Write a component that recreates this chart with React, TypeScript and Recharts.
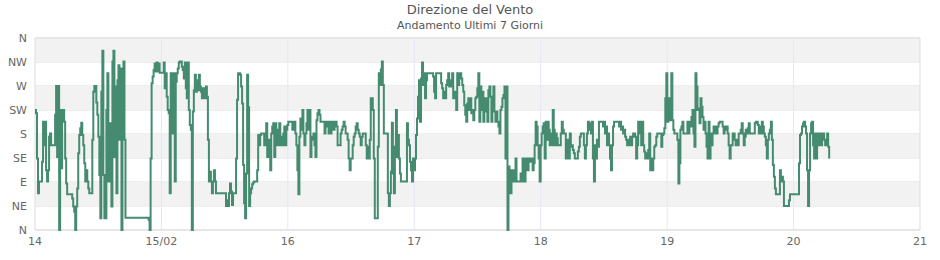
import React from 'react';
import { LineChart, Line, XAxis, YAxis, CartesianGrid, ReferenceArea, ReferenceLine } from 'recharts';

// Wind direction readings (degrees), consecutive samples about 11.45 minutes apart, from 14/02 00:00
const dirBlock1 = [
  225, 219, 134, 69, 91, 91, 91, 128, 203, 159,
  203, 112, 91, 112, 175, 181, 159, 159, 159, 159,
  216, 270, 137, 270, 0, 225, 116, 225, 225, 203,
  134, 87, 67, 67, 67, 67, 67, 59, 44, 34,
  0, 44, 78, 144, 178, 191, 201, 178, 159, 125,
  91, 112, 91, 78, 69, 69, 69, 169, 259, 270,
  270, 239, 216, 175, 103, 22, 259, 336, 103, 22,
  22, 225, 294, 91, 200, 91, 44, 316, 336, 137,
  269, 69, 281, 309, 169, 303, 0, 234, 316, 169,
  23, 23, 23, 23, 23, 23, 23, 23, 23, 23, 23, 23, 23, 23,
];
const dirBlock2 = [
  23, 23, 23, 23, 23, 23, 23, 23, 23, 19,
  0, 134, 275, 288, 300, 312, 297, 314, 297, 312,
  295, 295, 295, 295, 314, 266, 294, 250, 225, 219,
  69, 294, 284, 181, 294, 91, 278, 294, 303, 314,
  316, 316, 306, 300, 284, 314, 266, 247, 314, 225,
  197, 188, 0, 222, 262, 291, 259, 281, 262, 291,
  269, 259, 247, 266, 266, 247, 269, 250, 169, 91,
  109, 91, 69, 91, 112, 91, 69, 69, 69, 69,
  69, 69, 69, 69, 69, 69, 45, 56, 45,
];
const dirBlock3 = [
  69, 87, 72, 47, 69, 69, 69, 134, 244, 294,
  294, 291, 269, 237, 122, 50, 22, 106, 291, 230,
  45, 69, 78, 86, 89, 91, 91, 91, 112, 178,
  159, 178, 181, 181, 181, 159, 181, 200, 137, 169,
  159, 112, 181, 194, 200, 137, 200, 175, 159, 188,
  200, 159, 175, 159, 181, 194, 159, 188, 197, 203,
  203, 203, 203, 188, 200, 203, 181, 159, 112, 67,
  175, 209, 188, 225, 181, 159, 181, 200, 225, 188,
  225, 137, 175, 169, 181, 159, 137, 206, 219, 225,
  216, 203, 203, 203, 203, 181, 194, 203, 194, 181,
];
const dirBlock4 = [
  203, 181, 194, 203, 188, 194, 203, 194, 159, 159,
  159, 181, 188, 194, 203, 194, 181, 181, 169, 134,
  112, 134, 134, 159, 175, 181, 194, 200, 188, 181,
  175, 159, 175, 181, 181, 181, 159, 134, 156, 134,
  169, 247, 247, 225, 134, 22, 22, 22, 156, 294,
  272, 301, 316, 272, 181, 181, 181, 181, 69, 45,
  69, 109, 201, 106, 69, 156, 225, 137, 178, 134,
  106, 91, 91, 91, 91, 91, 91, 200, 169, 159,
  128, 112, 91, 134, 112, 134, 178, 209, 250, 281,
  203, 284, 314, 272, 294, 247, 281, 294, 294, 294,
];
const dirBlock5 = [
  294, 294, 294, 288, 259, 247, 294, 294, 294, 294,
  294, 275, 266, 247, 259, 247, 272, 281, 294, 269,
  281, 269, 294, 247, 259, 247, 225, 294, 272, 284,
  294, 284, 272, 259, 234, 216, 203, 237, 247, 225,
  247, 219, 225, 206, 225, 247, 250, 266, 294, 203,
  269, 225, 259, 203, 222, 247, 231, 203, 262, 269,
  250, 203, 237, 269, 222, 203, 222, 203, 194, 181,
  225, 231, 247, 253, 269, 134, 269, 0, 119, 69,
  69, 112, 91, 112, 91, 134, 91, 91, 91, 91,
  106, 91, 134, 112, 91, 134, 125, 112, 134, 128,
];
const dirBlock6 = [
  134, 134, 112, 125, 159, 203, 194, 159, 134, 91,
  159, 181, 194, 200, 134, 203, 169, 203, 188, 159,
  181, 159, 225, 188, 159, 181, 172, 159, 159, 159,
  181, 203, 188, 181, 181, 134, 169, 159, 134, 181,
  156, 159, 150, 144, 134, 134, 134, 147, 156, 175,
  181, 181, 181, 159, 134, 159, 181, 203, 188, 200,
  181, 203, 134, 91, 159, 134, 169, 156, 203, 203,
  203, 203, 194, 203, 181, 194, 159, 181, 159, 134,
  112, 159, 194, 203, 203, 203, 203, 203, 194, 203,
  188, 194, 181, 188, 175, 169, 159, 169, 159, 175,
];
const dirBlock7 = [
  159, 175, 181, 181, 175, 134, 159, 203, 181, 203,
  159, 203, 159, 147, 134, 144, 134, 150, 181, 112,
  134, 112, 134, 156, 159, 175, 181, 181, 181, 181,
  156, 178, 181, 191, 247, 294, 203, 247, 206, 247,
  294, 206, 188, 181, 181, 181, 169, 87, 125, 188,
  194, 203, 181, 181, 181, 181, 203, 181, 203, 194,
  212, 225, 181, 156, 294, 269, 225, 228, 200, 247,
  231, 212, 188, 203, 181, 156, 134, 203, 134, 181,
  159, 181, 194, 181, 194, 181, 194, 200, 203, 203,
  203, 194, 181, 194, 188, 194, 181, 159, 134, 159,
];
const dirBlock8 = [
  159, 181, 181, 169, 159, 169, 159, 181, 181, 188,
  200, 181, 159, 175, 188, 181, 191, 200, 181, 181,
  181, 181, 181, 200, 203, 203, 197, 181, 194, 181,
  203, 194, 181, 175, 159, 134, 169, 181, 188, 203,
  169, 122, 100, 78, 67, 67, 67, 67, 112, 91,
  100, 91, 45, 45, 45, 45, 45, 56, 67, 67,
  67, 67, 67, 67, 67, 67, 67, 125, 178, 181,
  194, 200, 203, 194, 181, 112, 45, 112, 181, 200,
  203, 159, 134, 181, 134, 175, 181, 159, 181, 159,
  169, 181, 169, 159, 169, 181, 156, 134,
];

const SAMPLE_HOURS = 11.45 / 60;

const xTicks = [0, 24, 48, 72, 96, 120, 144, 168];
const xTickLabels = ['14', '15/02', '16', '17', '18', '19', '20', '21'];
const yTicks = [0, 45, 90, 135, 180, 225, 270, 315, 360];
const yTickLabels = ['N', 'NE', 'E', 'SE', 'S', 'SW', 'W', 'NW', 'N'];
const bandRanges: [number, number][] = [[45, 90], [135, 180], [225, 270], [315, 360]];

const title = 'Direzione del Vento';
const subtitle = 'Andamento Ultimi 7 Giorni';

const directions = [
  ...dirBlock1, ...dirBlock2, ...dirBlock3, ...dirBlock4,
  ...dirBlock5, ...dirBlock6, ...dirBlock7, ...dirBlock8,
];
const data = directions.map((d, i) => ({ t: i * SAMPLE_HOURS, dir: d }));

const FONT = '"DejaVu Sans", Verdana, sans-serif';

export default function App() {
  return (
    <div style={{ position: 'absolute', left: 0, top: 0, width: 940, height: 260, fontFamily: FONT }}>
      <div style={{ position: 'absolute', left: 0, top: 2, width: 940, textAlign: 'center', fontSize: 13, lineHeight: '16px', color: '#555' }}>
        {title}
      </div>
      <div style={{ position: 'absolute', left: 0, top: 19, width: 940, textAlign: 'center', fontSize: 11, lineHeight: '14px', color: '#555' }}>
        {subtitle}
      </div>
      <LineChart width={940} height={260} data={data} margin={{ top: 38, right: 20, bottom: 0, left: 0 }}>
        {bandRanges.map(([a, b]) => (
          <ReferenceArea key={a} y1={a} y2={b} x1={0} x2={168} fill="#f2f2f2" fillOpacity={1} stroke="none" ifOverflow="hidden" />
        ))}
        {xTicks.slice(1, -1).map((t) => (
          <ReferenceLine key={t} x={t} stroke="#e6e6f5" strokeWidth={1} />
        ))}
        <CartesianGrid vertical={false} stroke="#dddddd" />
        <ReferenceArea x1={0} x2={168} y1={0} y2={360} fill="none" stroke="#dddddd" strokeWidth={1} />
        <XAxis
          dataKey="t"
          type="number"
          domain={[0, 168]}
          ticks={xTicks}
          tickFormatter={(v: number) => xTickLabels[xTicks.indexOf(v)] ?? ''}
          axisLine={false}
          tickLine={false}
          tickSize={0}
          tickMargin={7}
          height={30}
          interval={0}
          tick={{ fill: '#666', fontSize: 11, fontFamily: FONT }}
        />
        <YAxis
          type="number"
          domain={[0, 360]}
          ticks={yTicks}
          tickFormatter={(v: number) => yTickLabels[yTicks.indexOf(v)] ?? ''}
          axisLine={false}
          tickLine={false}
          tickSize={0}
          tickMargin={8}
          width={35}
          interval={0}
          tick={{ fill: '#666', fontSize: 11, fontFamily: FONT }}
        />
        <Line
          type="stepAfter"
          dataKey="dir"
          stroke="#458b70"
          strokeWidth={2}
          dot={false}
          activeDot={false}
          isAnimationActive={false}
        />
      </LineChart>
    </div>
  );
}
